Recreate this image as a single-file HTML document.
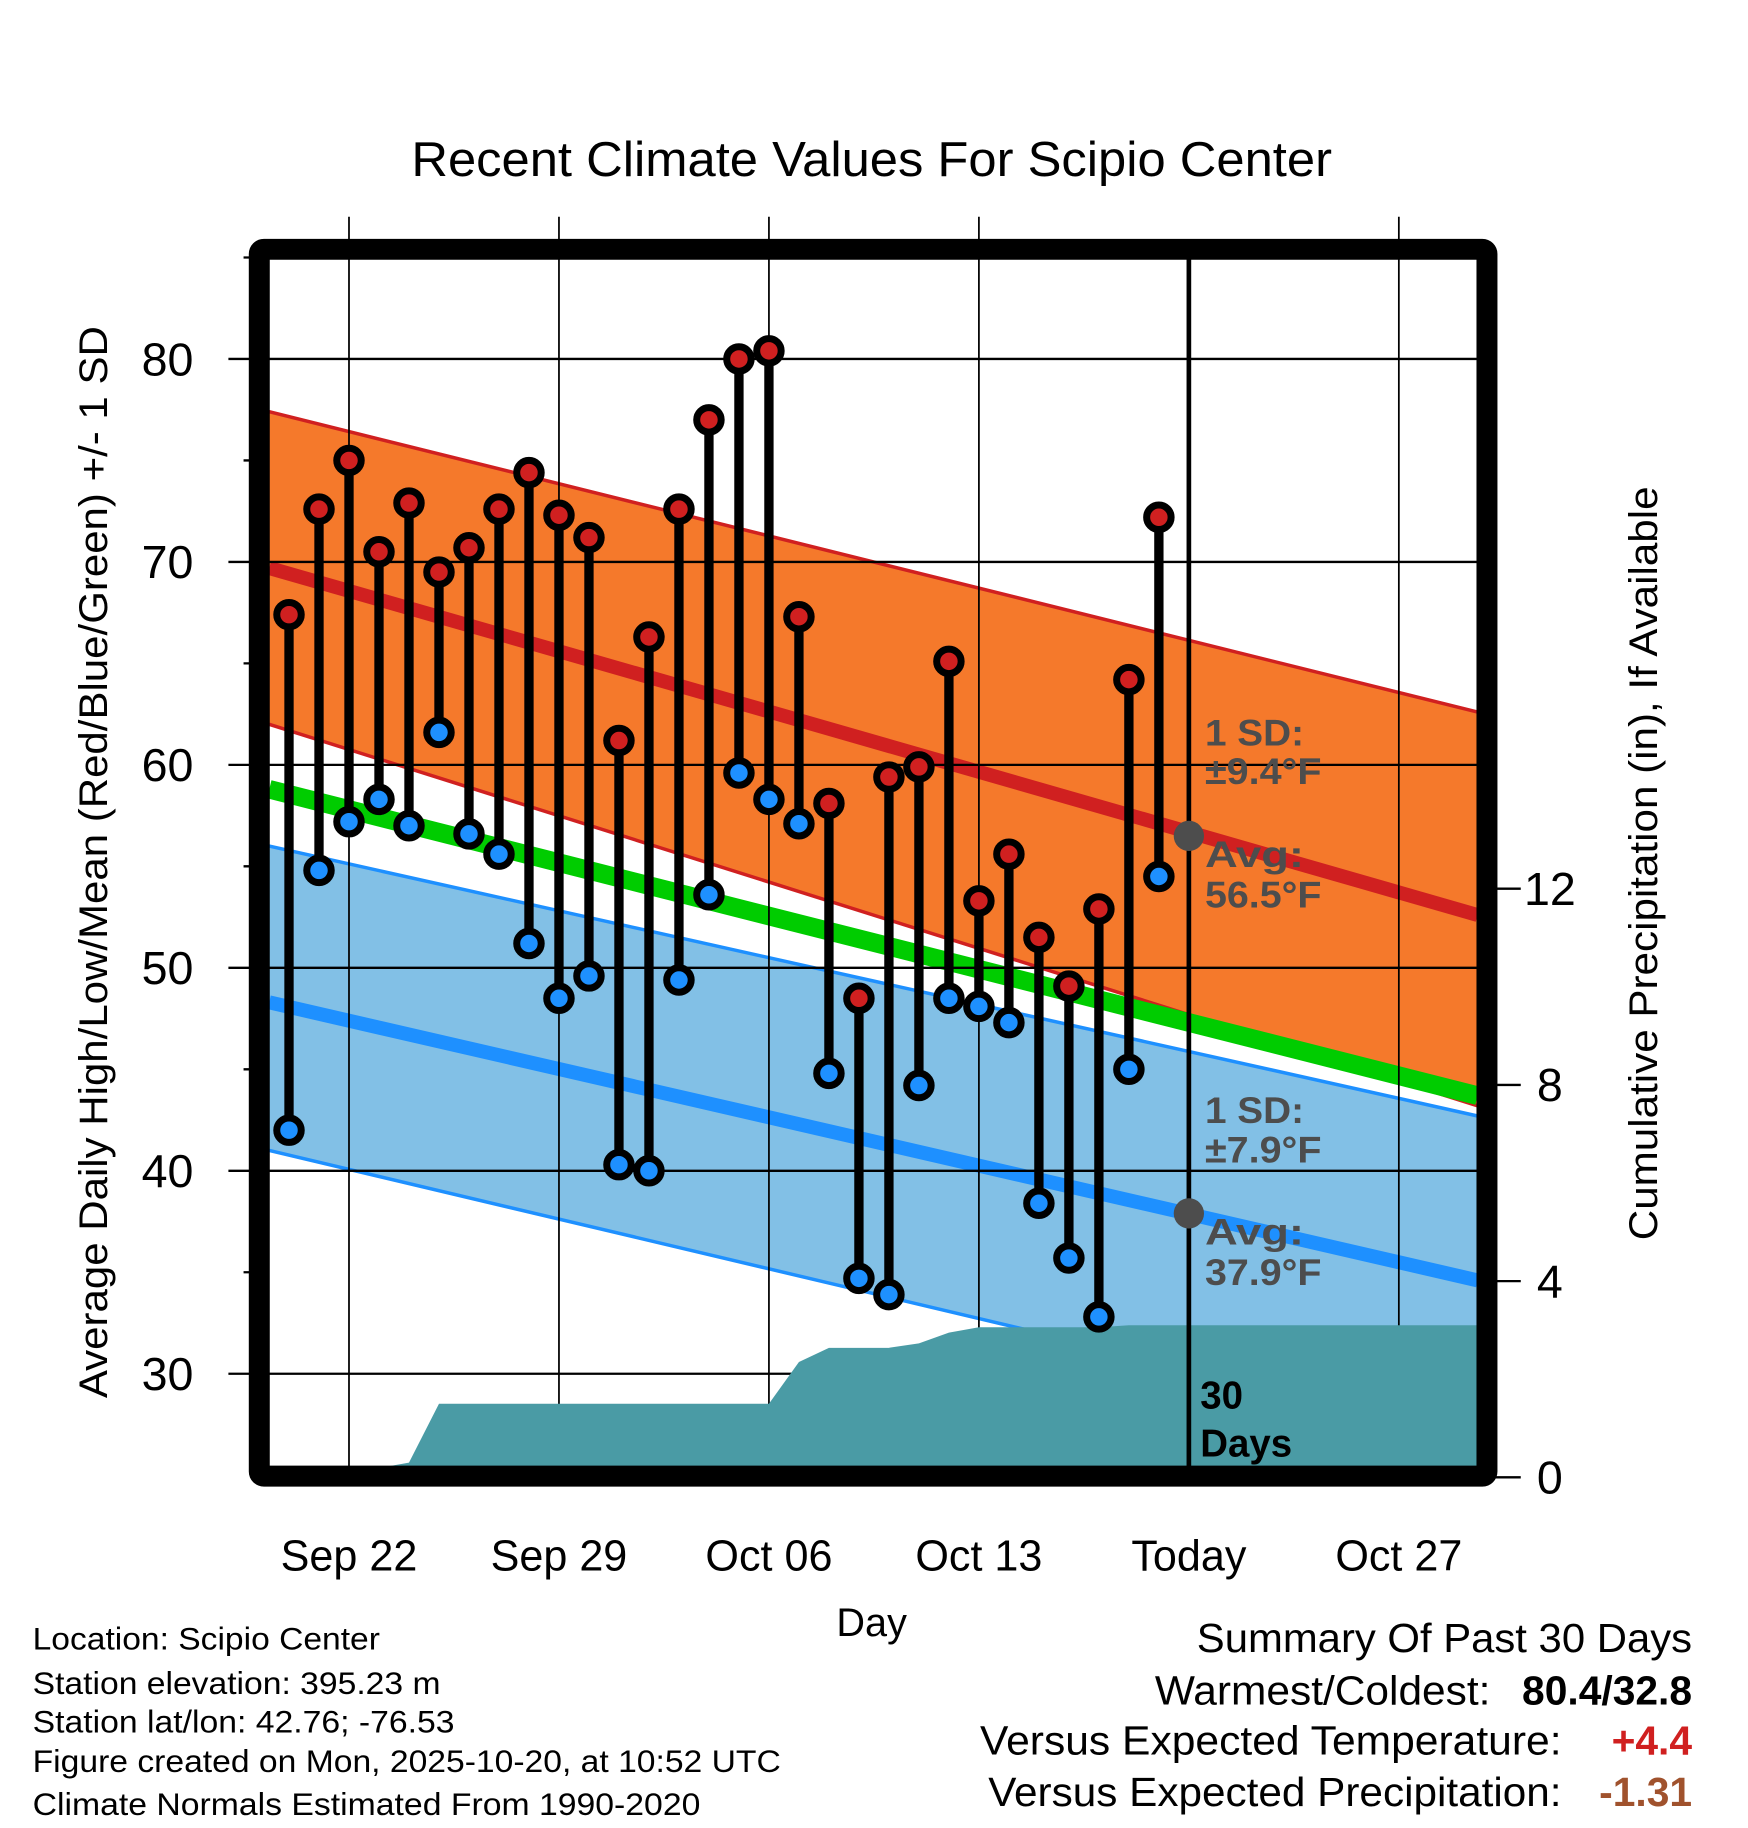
<!DOCTYPE html>
<html><head><meta charset="utf-8"><style>
html,body{margin:0;padding:0;background:#fff}
svg{display:block;font-family:"Liberation Sans",Arial,sans-serif}
</style></head><body>
<svg id="chart" width="1748" height="1828" viewBox="0 0 1500 1569" preserveAspectRatio="none" xmlns="http://www.w3.org/2000/svg">
<g id="bands"></g><g id="grid"></g><g id="precip"></g><g id="marks"></g>
<text x="748" y="151" font-size="42" text-anchor="middle" textLength="790" lengthAdjust="spacingAndGlyphs">Recent Climate Values For Scipio Center</text>
<text transform="translate(92,740) rotate(-90)" font-size="34" text-anchor="middle" textLength="920" lengthAdjust="spacingAndGlyphs">Average Daily High/Low/Mean (Red/Blue/Green) +/- 1 SD</text>
<text transform="translate(1422,741) rotate(-90)" font-size="34" text-anchor="middle" textLength="647" lengthAdjust="spacingAndGlyphs">Cumulative Precipitation (in), If Available</text>
<text x="748" y="1404" font-size="34" text-anchor="middle">Day</text>
<g font-size="27" lengthAdjust="spacingAndGlyphs">
<text x="28" y="1416" textLength="298" lengthAdjust="spacingAndGlyphs">Location: Scipio Center</text>
<text x="28" y="1454" textLength="350" lengthAdjust="spacingAndGlyphs">Station elevation: 395.23 m</text>
<text x="28" y="1487" textLength="362" lengthAdjust="spacingAndGlyphs">Station lat/lon: 42.76; -76.53</text>
<text x="28" y="1521" textLength="642" lengthAdjust="spacingAndGlyphs">Figure created on Mon, 2025-10-20, at 10:52 UTC</text>
<text x="28" y="1558" textLength="573" lengthAdjust="spacingAndGlyphs">Climate Normals Estimated From 1990-2020</text>
</g>
<g font-size="35">
<text x="1027" y="1418" textLength="425" lengthAdjust="spacingAndGlyphs">Summary Of Past 30 Days</text>
<text x="991" y="1463" textLength="288" lengthAdjust="spacingAndGlyphs">Warmest/Coldest:</text>
<text x="1452" y="1463" text-anchor="end" font-weight="bold">80.4/32.8</text>
<text x="841" y="1506" textLength="499" lengthAdjust="spacingAndGlyphs">Versus Expected Temperature:</text>
<text x="1452" y="1506" text-anchor="end" font-weight="bold" fill="#d02020">+4.4</text>
<text x="848" y="1550" textLength="492" lengthAdjust="spacingAndGlyphs">Versus Expected Precipitation:</text>
<text x="1452" y="1550" text-anchor="end" font-weight="bold" fill="#a0522d">-1.31</text>
</g>
</svg>
<script>
const highs=[67.4,72.6,75.0,70.5,72.9,69.5,70.7,72.6,74.4,72.3,71.2,61.2,66.3,72.6,77.0,80.0,80.4,67.3,58.1,48.5,59.4,59.9,65.1,53.3,55.6,51.5,49.1,52.9,64.2,72.2];
const lows=[42.0,54.8,57.2,58.3,57.0,61.6,56.6,55.6,51.2,48.5,49.6,40.3,40.0,49.4,53.6,59.6,58.3,57.1,44.8,34.7,33.9,44.2,48.5,48.1,47.3,38.4,35.7,32.8,45.0,54.5];
const precip=[0,0,0,0,0.3,1.5,1.5,1.5,1.5,1.5,1.5,1.5,1.5,1.5,1.5,1.5,1.5,2.35,2.64,2.64,2.64,2.73,2.95,3.06,3.06,3.06,3.06,3.06,3.1,3.1];
// normals at left edge and right edge of plot
const highUpper=[77.4,62.6], highAvg=[69.7,52.6], highLower=[62.0,43.2], meanAvg=[58.8,43.7];
const lowUpper=[56.0,42.7], lowAvg=[48.3,34.6], lowLower=[41.0,26.9];
const yTicks=[30,40,50,60,70,80];
const yMinor=[35,45,55,65,75,85];
const pTicks=[0,4,8,12];
const xTickDays=[2,9,16,23,30,37];
const xTickLabels=["Sep 22","Sep 29","Oct 06","Oct 13","Today","Oct 27"];
const NS="http://www.w3.org/2000/svg";
const L=231,R=1268,T=223,B=1260;
const X=d=>248+d*25.74;
const Y=v=>308.1+(80-v)*17.42;
const P=p=>1268-p*42.1;
function mk(parent,tag,attrs){const e=document.createElementNS(NS,tag);for(const k in attrs)e.setAttribute(k,attrs[k]);document.getElementById(parent).appendChild(e);return e;}
function lineAB(a){return `M${L},${Y(a[0])} L${R},${Y(a[1])}`;}
let e;
e=mk('bands','path',{d:`M${L},${Y(highUpper[0])} L${R},${Y(highUpper[1])} L${R},${Y(highLower[1])} L${L},${Y(highLower[0])}Z`,fill:'#f5792b'});

e=mk('bands','path',{d:lineAB(highLower),stroke:'#d02020','stroke-width':3,fill:'none'});

e=mk('bands','path',{d:`M${L},${Y(lowUpper[0])} L${R},${Y(lowUpper[1])} L${R},${Y(lowLower[1])} L${L},${Y(lowLower[0])}Z`,fill:'#82c0e6'});

e=mk('bands','path',{d:lineAB(highUpper),stroke:'#d02020','stroke-width':3,fill:'none'});

e=mk('bands','path',{d:lineAB(lowUpper),stroke:'#1e90ff','stroke-width':3,fill:'none'});

e=mk('bands','path',{d:lineAB(lowLower),stroke:'#1e90ff','stroke-width':3,fill:'none'});

e=mk('bands','path',{d:lineAB(meanAvg),stroke:'#00cc00','stroke-width':16,fill:'none'});

e=mk('bands','path',{d:lineAB(highAvg),stroke:'#d02020','stroke-width':12,fill:'none'});

e=mk('bands','path',{d:lineAB(lowAvg),stroke:'#1e90ff','stroke-width':12,fill:'none'});

// grid
yTicks.forEach(v=>{e=mk('grid','line',{x1:196,x2:R,y1:Y(v),y2:Y(v),stroke:'#000','stroke-width':2});

e=mk('grid','text',{x:166,y:Y(v)+14,'font-size':40,'text-anchor':'end'});e.textContent=v;
});
yMinor.forEach(v=>{e=mk('grid','line',{x1:209,x2:231,y1:Y(v),y2:Y(v),stroke:'#000','stroke-width':2});
});
xTickDays.forEach((d,i)=>{if(i!==4){e=mk('grid','line',{x1:X(d),x2:X(d),y1:186,y2:B,stroke:'#000','stroke-width':1.5});
}
e=mk('grid','text',{x:X(d),y:1348,'font-size':37,'text-anchor':'middle','font-weight':'normal'});e.textContent=xTickLabels[i];
});
pTicks.forEach(p=>{e=mk('grid','line',{x1:1283,x2:1305,y1:P(p),y2:P(p),stroke:'#000','stroke-width':2});

e=mk('grid','text',{x:1330,y:P(p)+14,'font-size':40,'text-anchor':'middle'});e.textContent=p;
});
// precip area
let d=`M${L},${B} L${L},${P(precip[0])}`;
precip.forEach((p,i)=>{d+=` L${X(i)},${Math.min(B,P(p))}`;});
d+=` L${R},${P(precip[precip.length-1])} L${R},${B}Z`;
e=mk('precip','path',{d:d,fill:'#4a9ba5'});

// today line
e=mk('precip','line',{x1:X(30),x2:X(30),y1:215,y2:B,stroke:'#000','stroke-width':4});

// stems and points
highs.forEach((h,i)=>{e=mk('marks','line',{x1:X(i),x2:X(i),y1:Y(h),y2:Y(lows[i]),stroke:'#000','stroke-width':8});
});
highs.forEach((h,i)=>{e=mk('marks','circle',{cx:X(i),cy:Y(h),r:10.5,fill:'#d02020',stroke:'#000','stroke-width':6});

e=mk('marks','circle',{cx:X(i),cy:Y(lows[i]),r:10.5,fill:'#1e90ff',stroke:'#000','stroke-width':6});
});
// today normals
e=mk('marks','circle',{cx:X(30),cy:Y(56.5),r:13,fill:'#4d4d4d'});

e=mk('marks','circle',{cx:X(30),cy:Y(37.9),r:13,fill:'#4d4d4d'});

const ann=[["1 SD:",640,85],["±9.4°F",673,100],["Avg:",744,85],["56.5°F",779,100],["1 SD:",964,85],["±7.9°F",998,100],["Avg:",1068,85],["37.9°F",1103,100]];
ann.forEach(a=>{e=mk('marks','text',{x:1034,y:a[1],'font-size':32,'font-weight':'bold',fill:'#4d4d4d',textLength:a[2],lengthAdjust:'spacingAndGlyphs'});e.textContent=a[0];
});
[["30",1209],["Days",1250]].forEach(a=>{e=mk('marks','text',{x:1030,y:a[1],'font-size':33,'font-weight':'bold'});e.textContent=a[0];
});
// frame
e=mk('marks','rect',{x:222.5,y:214,width:1053.5,height:1053,fill:'none',stroke:'#000','stroke-width':18,rx:4});

</script>
</body></html>
